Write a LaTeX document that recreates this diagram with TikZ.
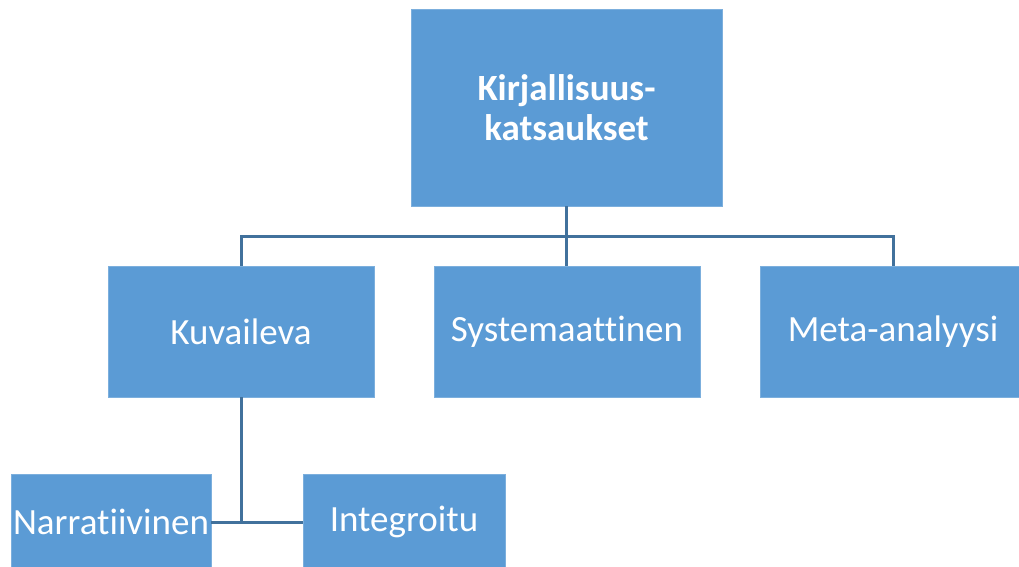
\documentclass[tikz,border=0pt]{standalone}
\usepackage{fontspec}
\setmainfont[Ligatures=NoCommon]{Carlito}
\usetikzlibrary{positioning}
\definecolor{laatikkosin}{HTML}{5B9BD5}
\definecolor{viivasin}{HTML}{41719C}

\begin{document}
\begin{tikzpicture}[x=1pt,y=-1pt,
    laatikko/.style={rectangle,fill=laatikkosin,draw=laatikkosin!80!white,line width=0.8pt,text=white,
        font=\fontsize{37}{40}\selectfont,align=center,inner sep=0pt},
    viiva/.style={draw=viivasin,line width=3pt}]
    \useasboundingbox (0,0) rectangle (1019,566);

    \node[laatikko,minimum width=311pt,minimum height=197pt,font=\fontsize{37}{40}\selectfont\bfseries] (kirj) at (566.5,107.5) {Kirjallisuus-\\katsaukset};
    \node[laatikko,minimum width=266pt,minimum height=131pt] (kuv) at (241,331.5) {Kuvaileva};
    \node[laatikko,minimum width=266pt,minimum height=131pt] (sys) at (567,331.5) {Systemaattinen};
    \node[laatikko,minimum width=266pt,minimum height=131pt] (meta) at (893,331.5) {Meta-analyysi};
    \node[laatikko,minimum width=200pt,minimum height=96pt] (nar) at (111,522) {Narratiivinen};
    \node[laatikko,minimum width=202pt,minimum height=96pt] (int) at (404,522) {Integroitu};

    \coordinate (vali) at (0,236);

    \draw[viiva] (kirj.south) -- (kirj.south |- sys.north);
    \draw[viiva] (kuv.north) -- (kuv.north |- vali) -- (meta.north |- vali) -- (meta.north);
    \draw[viiva] (kuv.south) -- (kuv.south |- nar.east);
    \draw[viiva] (nar.east) -- (int.west);

\end{tikzpicture}
\end{document}
